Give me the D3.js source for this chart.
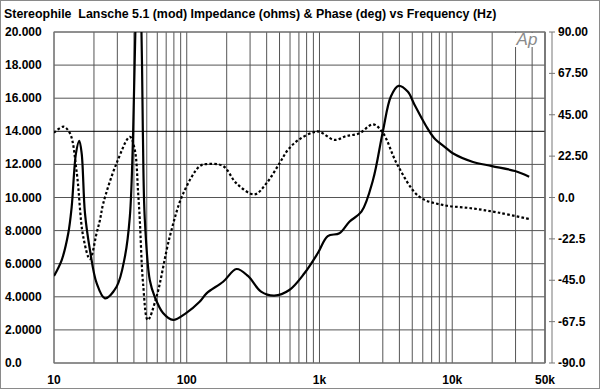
<!DOCTYPE html>
<html>
<head>
<meta charset="utf-8">
<script src="https://cdn.jsdelivr.net/npm/d3@7"></script>
<style>
	body { margin: 0; background: #fff; }
	text { font-family: "Liberation Sans", Arial, Helvetica, sans-serif; }
</style>
</head>
<body>
<div id="main"></div>
<script>
// impedance (ohms) vs frequency
var impFreq = [10, 11.43, 12.81, 13.59, 14.64, 15.5, 16.16, 17.11, 18.65, 20.95, 24.18, 29.61, 34.2, 37.27, 39.48, 41.0, 43.2, 45.6, 46.7, 48.3, 52.7, 57.4, 66.3, 78.9, 98.3, 125, 141, 188, 237, 289, 363, 457, 593, 770, 970, 1155, 1413, 1680, 2070, 2530, 3000, 3450, 3940, 4620, 5200, 6320, 7300, 8960, 10100, 14170, 19900, 29700, 38000]
var impOhms = [5.26, 6.22, 7.84, 9.44, 12.67, 13.43, 12.67, 9.05, 6.83, 4.82, 3.91, 4.61, 6.42, 8.84, 14, 20, 26, 20, 14, 8.7, 5.0, 4.0, 3.02, 2.6, 3.0, 3.7, 4.21, 4.91, 5.68, 5.26, 4.31, 4.07, 4.41, 5.42, 6.63, 7.67, 7.84, 8.54, 9.14, 11.06, 13.98, 16.1, 16.74, 16.4, 15.6, 14.35, 13.6, 13.0, 12.67, 12.16, 11.9, 11.6, 11.26]

// phase (deg) vs frequency
var phaseFreq = [10, 11.75, 13.19, 14.81, 16.6, 18.65, 20.95, 22.2, 23.5, 29.6, 37.3, 40.6, 43.0, 44.3, 46.9, 50.9, 59.2, 74.5, 93.8, 125, 141, 188, 237, 324, 398, 500, 577, 700, 900, 1000, 1300, 1590, 2000, 2530, 3000, 3870, 5640, 8470, 14170, 22600, 38000]
var phaseDeg = [35.2, 38.5, 34.9, 14, -21.3, -33.5, -19.3, -12.2, -3.2, 18.6, 33, 26, 3, -12.2, -47, -66.6, -54, -21.3, 2, 17, 18.2, 17.1, 7.7, 1.7, 7.7, 18.6, 25.8, 31.5, 35.5, 35.8, 31.3, 33.4, 34.9, 39.8, 35.2, 17.7, 0.44, -4.05, -5.9, -8.3, -11.7]

var leftTicks = [0, 2, 4, 6, 8, 10, 12, 14, 16, 18, 20]
var leftLabels = ["0.0", "2.0000", "4.0000", "6.0000", "8.0000", "10.000", "12.000", "14.000", "16.000", "18.000", "20.000"]
var rightTicks = [-90, -67.5, -45, -22.5, 0, 22.5, 45, 67.5, 90]
var rightLabels = ["-90.0", "-67.5", "-45.0", "-22.5", "0.0", "22.50", "45.00", "67.50", "90.00"]
var xTicks = [10, 100, 1000, 10000, 50000]
var xLabels = ["10", "100", "1k", "10k", "50k"]

var title = "Stereophile  Lansche 5.1 (mod) Impedance (ohms) & Phase (deg) vs Frequency (Hz)"

var W = 600, H = 389
var plot = { left: 54, right: 545, top: 32, bottom: 363 }

var svg = d3.select("#main")
	.append("svg")
	.attr("width", W)
	.attr("height", H)

var x = d3.scaleLog().domain([10, 50000]).range([plot.left, plot.right])
var yImp = d3.scaleLinear().domain([0, 20]).range([plot.bottom, plot.top])
var yPh = d3.scaleLinear().domain([-90, 90]).range([plot.bottom, plot.top])

// outer frame
svg.append("rect")
	.attr("x", 0.5).attr("y", 0.5)
	.attr("width", W - 1).attr("height", H - 1)
	.attr("fill", "#fff")
	.attr("stroke", "#8a8a8a")

// grid: every 1..9 per decade
var gridFreqs = []
for (var dec = 10; dec <= 10000; dec *= 10) {
	for (var m = 1; m <= 9; m++) {
		if (dec * m <= 50000) gridFreqs.push(dec * m)
	}
}
gridFreqs.push(50000)

var grid = svg.append("g").attr("class", "grid")
grid.selectAll(".vline")
	.data(gridFreqs)
	.enter().append("line")
	.attr("x1", function(d) { return x(d) })
	.attr("x2", function(d) { return x(d) })
	.attr("y1", plot.top)
	.attr("y2", plot.bottom)
	.attr("stroke", "#555")
	.attr("stroke-width", 1)

grid.selectAll(".hline")
	.data(leftTicks)
	.enter().append("line")
	.attr("x1", plot.left)
	.attr("x2", plot.right)
	.attr("y1", function(d) { return yImp(d) })
	.attr("y2", function(d) { return yImp(d) })
	.attr("stroke", function(d) { return d == 14 ? "#000" : "#555" })
	.attr("stroke-width", 1)

// Ap logo box
svg.append("rect")
	.attr("x", 509).attr("y", plot.top + 1)
	.attr("width", 32).attr("height", 14)
	.attr("fill", "#fff")
svg.append("text")
	.attr("x", 527).attr("y", 45)
	.attr("text-anchor", "middle")
	.attr("font-size", "17px")
	.attr("font-style", "italic")
	.attr("fill", "#8a8a8a")
	.text("Ap")

svg.append("rect")
	.attr("x", plot.left).attr("y", plot.top)
	.attr("width", plot.right - plot.left)
	.attr("height", plot.bottom - plot.top)
	.attr("fill", "none")
	.attr("stroke", "#777")

// clip for curves
svg.append("clipPath").attr("id", "clip")
	.append("rect")
	.attr("x", plot.left).attr("y", plot.top)
	.attr("width", plot.right - plot.left)
	.attr("height", plot.bottom - plot.top)

var line = d3.line()
	.x(function(d) { return x(d[0]) })
	.y(function(d) { return d[1] })
	.curve(d3.curveCatmullRom.alpha(0.5))

var impData = impFreq.map(function(f, i) { return [f, yImp(impOhms[i])] })
var phData = phaseFreq.map(function(f, i) { return [f, yPh(phaseDeg[i])] })

var curves = svg.append("g").attr("clip-path", "url(#clip)")
curves.append("path")
	.attr("d", line(phData))
	.attr("fill", "none")
	.attr("stroke", "#000")
	.attr("stroke-width", 2.2)
	.attr("stroke-dasharray", "2.6,2.2")
curves.append("path")
	.attr("d", line(impData))
	.attr("fill", "none")
	.attr("stroke", "#000")
	.attr("stroke-width", 2.2)

// right phase axis
var axR = svg.append("g")
axR.append("line")
	.attr("x1", 552).attr("x2", 552)
	.attr("y1", plot.top).attr("y2", plot.bottom)
	.attr("stroke", "#777")
axR.selectAll(".rtick")
	.data(rightTicks)
	.enter().append("line")
	.attr("x1", 549).attr("x2", 555)
	.attr("y1", function(d) { return yPh(d) })
	.attr("y2", function(d) { return yPh(d) })
	.attr("stroke", "#777")

// labels
svg.append("text")
	.attr("x", 4).attr("y", 18)
	.attr("font-size", "12.4px")
	.attr("font-weight", "bold")
	.attr("xml:space", "preserve")
	.style("white-space", "pre")
	.text(title)

svg.selectAll(".llab")
	.data(leftTicks)
	.enter().append("text")
	.attr("x", 5)
	.attr("y", function(d) { return yImp(d) + 4 })
	.attr("font-size", "12px")
	.attr("font-weight", "bold")
	.text(function(d, i) { return leftLabels[i] })

svg.selectAll(".rlab")
	.data(rightTicks)
	.enter().append("text")
	.attr("x", 558)
	.attr("y", function(d) { return yPh(d) + 4 })
	.attr("font-size", "12px")
	.attr("font-weight", "bold")
	.text(function(d, i) { return rightLabels[i] })

svg.selectAll(".xlab")
	.data(xTicks)
	.enter().append("text")
	.attr("x", function(d) { return x(d) })
	.attr("y", 384)
	.attr("text-anchor", "middle")
	.attr("font-size", "12px")
	.attr("font-weight", "bold")
	.text(function(d, i) { return xLabels[i] })
</script>
</body>
</html>
